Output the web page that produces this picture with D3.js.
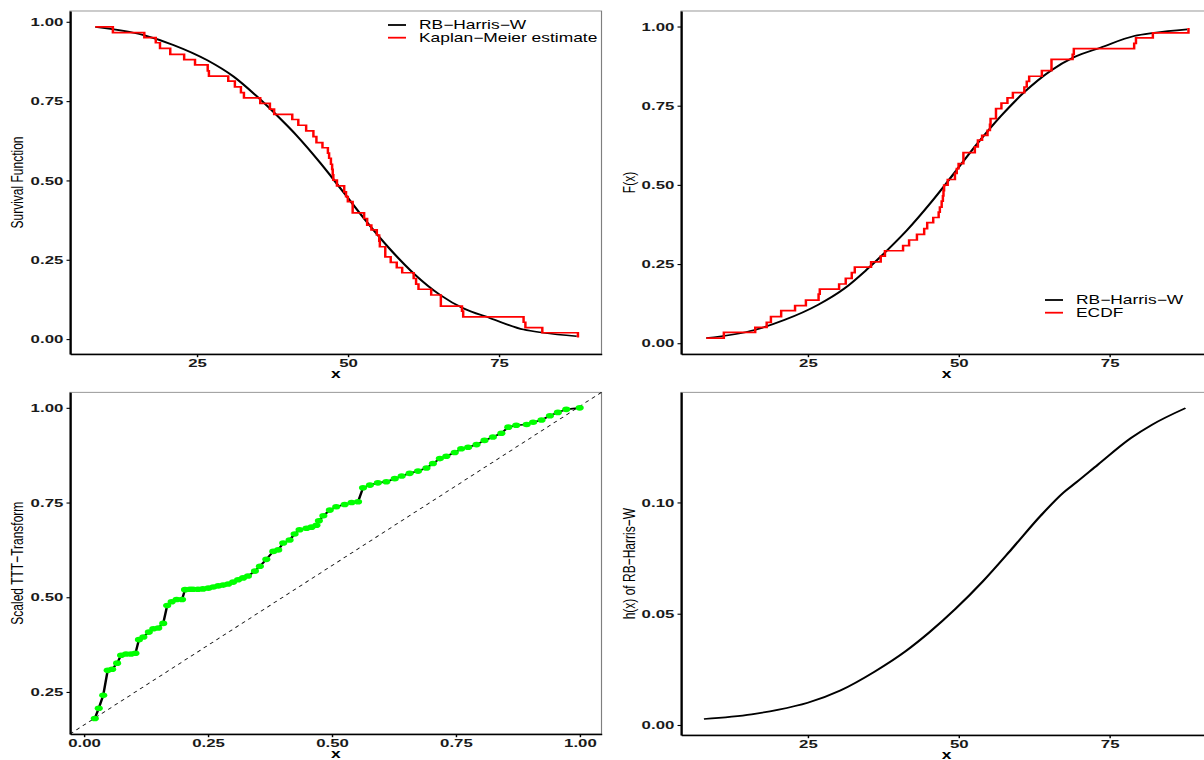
<!DOCTYPE html>
<meta charset="utf-8">
<script src="https://d3js.org/d3.v7.min.js"></script>
<style>
body { margin: 0; background: #fff; }
.tick text { font-family: "Liberation Sans", Arial, sans-serif; font-weight: bold; font-size: 11.6px; fill: #1a1a1a; }
.tick line { stroke: #000; }
.domain { stroke: #000; stroke-width: 1.5; }
.title { font-family: "Liberation Sans", Arial, sans-serif; font-size: 12px; fill: #000; }
</style>
<body>
<script>

// fitted RB-Harris-W survival / cdf
var fitX    = [8.2, 16.2, 21.1, 26.7, 31.1, 34.7, 38.2, 41.5, 45.4, 47.8, 49.6, 53.1, 57.0, 60.9, 65.3, 69.1, 73.6, 79.1, 82.4, 87.9]
var fitSurv = [0.984, 0.958, 0.927, 0.879, 0.827, 0.769, 0.706, 0.642, 0.556, 0.499, 0.455, 0.370, 0.283, 0.207, 0.139, 0.097, 0.066, 0.030, 0.020, 0.009]
var fitCdf  = [0.016, 0.042, 0.073, 0.121, 0.173, 0.231, 0.294, 0.358, 0.444, 0.501, 0.545, 0.630, 0.717, 0.793, 0.861, 0.903, 0.934, 0.970, 0.980, 0.991]

// step functions: Kaplan-Meier and ECDF jump points
var stepTime = [8.2, 11.1, 16.3, 18.2, 18.9, 20.6, 22.9, 24.7, 26.8, 27.0, 30.2, 31.3, 32.3, 32.8, 35.5, 37.1, 37.8, 40.8, 41.8, 43.1,
                44.3, 44.8, 45.8, 46.7, 46.9, 47.2, 47.4, 47.5, 47.6, 48.2, 49.4, 49.7, 50.0, 50.8, 52.7, 53.2, 53.9, 54.8, 55.2, 55.3,
                56.2, 57.1, 58.1, 59.0, 60.9, 61.3, 61.7, 63.8, 65.4, 68.9, 69.1, 79.1, 79.4, 82.2, 88.1]
var kmSurv   = [0.984, 0.966, 0.950, 0.934, 0.916, 0.897, 0.881, 0.864, 0.845, 0.829, 0.813, 0.795, 0.777, 0.760, 0.743, 0.725, 0.708, 0.692, 0.674, 0.656,
                0.638, 0.619, 0.603, 0.586, 0.570, 0.551, 0.535, 0.518, 0.501, 0.483, 0.464, 0.449, 0.433, 0.398, 0.380, 0.359, 0.344, 0.328, 0.309, 0.291,
                0.259, 0.242, 0.225, 0.209, 0.191, 0.173, 0.157, 0.139, 0.104, 0.088, 0.070, 0.053, 0.036, 0.020, 0.005]
var ecdfProb = [0.016, 0.034, 0.050, 0.066, 0.084, 0.103, 0.119, 0.136, 0.155, 0.171, 0.187, 0.205, 0.223, 0.240, 0.257, 0.275, 0.292, 0.308, 0.326, 0.344,
                0.362, 0.381, 0.397, 0.414, 0.430, 0.449, 0.465, 0.482, 0.499, 0.517, 0.536, 0.551, 0.567, 0.602, 0.620, 0.641, 0.656, 0.672, 0.691, 0.709,
                0.741, 0.758, 0.775, 0.791, 0.809, 0.827, 0.843, 0.861, 0.896, 0.912, 0.930, 0.947, 0.964, 0.980, 0.995]

// scaled TTT transform
var tttX = [0.022, 0.030, 0.039, 0.048, 0.057, 0.067, 0.075, 0.085, 0.095, 0.104, 0.111, 0.120, 0.131, 0.140, 0.150, 0.160, 0.168, 0.177, 0.187, 0.198,
            0.204, 0.214, 0.220, 0.230, 0.240, 0.251, 0.261, 0.271, 0.281, 0.291, 0.301, 0.311, 0.321, 0.331, 0.345, 0.355, 0.368, 0.382, 0.392, 0.402,
            0.415, 0.425, 0.435, 0.449, 0.459, 0.469, 0.474, 0.483, 0.496, 0.509, 0.526, 0.540, 0.553, 0.563, 0.577, 0.593, 0.610, 0.627, 0.641, 0.657,
            0.674, 0.691, 0.704, 0.718, 0.731, 0.748, 0.761, 0.775, 0.792, 0.808, 0.825, 0.842, 0.856, 0.872, 0.893, 0.906, 0.923, 0.940, 0.956, 0.973, 1.000]
var tttY = [0.180, 0.207, 0.241, 0.307, 0.310, 0.326, 0.347, 0.350, 0.350, 0.352, 0.388, 0.395, 0.408, 0.417, 0.419, 0.431, 0.478, 0.488, 0.494, 0.494,
            0.520, 0.521, 0.521, 0.521, 0.522, 0.524, 0.527, 0.530, 0.532, 0.535, 0.540, 0.546, 0.551, 0.556, 0.569, 0.582, 0.600, 0.621, 0.625, 0.643,
            0.651, 0.667, 0.678, 0.682, 0.685, 0.690, 0.702, 0.715, 0.730, 0.739, 0.745, 0.750, 0.752, 0.789, 0.796, 0.802, 0.805, 0.813, 0.820, 0.827,
            0.833, 0.841, 0.853, 0.866, 0.872, 0.882, 0.892, 0.896, 0.903, 0.914, 0.923, 0.933, 0.949, 0.954, 0.956, 0.962, 0.968, 0.979, 0.988, 0.996, 1.000]

// hazard rate of RB-Harris-W
var hazX = [7.8, 15.7, 20.0, 25.0, 30.4, 36.1, 41.3, 45.1, 49.5, 54.0, 59.1, 63.6, 67.4, 69.5, 73.1, 78.6, 82.1, 87.6]
var hazY = [0.0027, 0.0048, 0.0068, 0.0100, 0.0155, 0.0240, 0.0333, 0.0415, 0.0522, 0.0645, 0.0800, 0.0940, 0.1045, 0.1090, 0.1170, 0.1290, 0.1350, 0.1424]

var xTicksA = [25, 50, 75]
var yTicksA = [0, 0.25, 0.5, 0.75, 1]
var xTicksTTT = [0, 0.25, 0.5, 0.75, 1]
var yTicksTTT = [0.25, 0.5, 0.75, 1]
var yTicksHaz = [0, 0.05, 0.1]

// the original picture is stretched sideways, so draw narrow and stretch
var S = 1.45
var W = 1204 / S, H = 760

var svg = d3.select("body").append("svg")
            .attr("width", 1204).attr("height", H)
            .attr("viewBox", "0 0 " + W + " " + H)
            .attr("preserveAspectRatio", "none")
            .style("display", "block")

var f2 = d3.format(".2f")

function panel(o) {
  var x = d3.scaleLinear().domain(o.xd).range([o.l / S, o.r / S])
  var y = d3.scaleLinear().domain(o.yd).range([o.b, o.t])
  var g = svg.append("g")
  g.append("rect")
    .attr("x", o.l / S).attr("y", o.t)
    .attr("width", (o.r - o.l) / S).attr("height", o.b - o.t)
    .attr("fill", "none").attr("stroke", "#7f7f7f").attr("stroke-width", 0.8)
  var content = g.append("g")
  g.append("g")
    .attr("transform", "translate(0," + o.b + ")")
    .call(d3.axisBottom(x).tickValues(o.xt).tickFormat(o.xf).tickSizeInner(3.2).tickSizeOuter(0).tickPadding(1.2))
    .selectAll(".tick line").attr("stroke-width", 1)
  g.append("g")
    .attr("transform", "translate(" + o.l / S + ",0)")
    .call(d3.axisLeft(y).tickValues(o.yt).tickFormat(f2).tickSizeInner(2.4).tickSizeOuter(0).tickPadding(2.2))
    .selectAll(".tick line").attr("stroke-width", 1.1)
  g.append("text").attr("class", "title")
    .attr("x", (o.l + o.r) / 2 / S).attr("y", o.b + 24)
    .attr("text-anchor", "middle").style("font-weight", "bold")
    .text("x")
  g.append("text").attr("class", "title")
    .attr("transform", "translate(" + o.ytx / S + "," + (o.t + o.b) / 2 + ") rotate(-90)")
    .attr("text-anchor", "middle")
    .text(o.ytitle)
  return {g: content, x: x, y: y}
}

function legend(g, lx, ly, labels, colors) {
  labels.forEach(function(t, i) {
    var yy = ly + i * 12.7
    g.append("line").attr("x1", lx / S).attr("x2", (lx + 18) / S).attr("y1", yy).attr("y2", yy)
      .attr("stroke", colors[i]).attr("stroke-width", 1.8)
    g.append("text").attr("class", "title")
      .attr("x", (lx + 31) / S).attr("y", yy + 4.3)
      .text(t)
  })
}

var fmtInt = d3.format("d")

// top left: survival
var p1 = panel({l: 70, r: 601.5, t: 11, b: 354, xd: [4, 92], yd: [-0.047, 1.034],
                xt: xTicksA, xf: fmtInt, yt: yTicksA, ytx: 23, ytitle: "Survival Function"})
p1.g.append("path")
  .attr("d", d3.line().x(function(d, i) { return p1.x(fitX[i]) }).y(function(d) { return p1.y(d) }).curve(d3.curveMonotoneX)(fitSurv))
  .attr("fill", "none").attr("stroke", "#000").attr("stroke-width", 1.7)
p1.g.append("path")
  .attr("d", d3.line().x(function(d, i) { return p1.x(stepTime[i]) }).y(function(d) { return p1.y(d) }).curve(d3.curveStepAfter)(kmSurv))
  .attr("fill", "none").attr("stroke", "#ff0000").attr("stroke-width", 1.7)
legend(p1.g, 388, 25, ["RB\u2212Harris\u2212W", "Kaplan\u2212Meier estimate"], ["#000", "#ff0000"])

// top right: cdf
var p2 = panel({l: 681, r: 1212, t: 11, b: 354, xd: [4, 92], yd: [-0.034, 1.049],
                xt: xTicksA, xf: fmtInt, yt: yTicksA, ytx: 635, ytitle: "F(x)"})
p2.g.append("path")
  .attr("d", d3.line().x(function(d, i) { return p2.x(fitX[i]) }).y(function(d) { return p2.y(d) }).curve(d3.curveMonotoneX)(fitCdf))
  .attr("fill", "none").attr("stroke", "#000").attr("stroke-width", 1.7)
p2.g.append("path")
  .attr("d", d3.line().x(function(d, i) { return p2.x(stepTime[i]) }).y(function(d) { return p2.y(d) }).curve(d3.curveStepAfter)(ecdfProb))
  .attr("fill", "none").attr("stroke", "#ff0000").attr("stroke-width", 1.7)
legend(p2.g, 1045, 300, ["RB\u2212Harris\u2212W", "ECDF"], ["#000", "#ff0000"])

// bottom left: TTT
var p3 = panel({l: 70, r: 601.5, t: 392.3, b: 734, xd: [-0.028, 1.044], yd: [0.139, 1.041],
                xt: xTicksTTT, xf: f2, yt: yTicksTTT, ytx: 23, ytitle: "Scaled TTT\u2212Transform"})
p3.g.append("line")
  .attr("x1", p3.x(p3.x.domain()[0])).attr("y1", p3.y(p3.y.domain()[0]))
  .attr("x2", p3.x(p3.x.domain()[1])).attr("y2", p3.y(p3.y.domain()[1]))
  .attr("stroke", "#000").attr("stroke-width", 0.7).attr("stroke-dasharray", "3,3")
p3.g.append("path")
  .attr("d", d3.line().x(function(d, i) { return p3.x(tttX[i]) }).y(function(d) { return p3.y(d) })(tttY))
  .attr("fill", "none").attr("stroke", "#000").attr("stroke-width", 1.7)
p3.g.selectAll("circle").data(tttY).enter().append("circle")
  .attr("cx", function(d, i) { return p3.x(tttX[i]) })
  .attr("cy", function(d) { return p3.y(d) })
  .attr("r", 2.8)
  .attr("fill", "#00ff00")

// bottom right: hazard
var p4 = panel({l: 681, r: 1212, t: 392.3, b: 735, xd: [4, 92], yd: [-0.0045, 0.1495],
                xt: xTicksA, xf: fmtInt, yt: yTicksHaz, ytx: 635, ytitle: "h(x) of RB\u2212Harris\u2212W"})
p4.g.append("path")
  .attr("d", d3.line().x(function(d, i) { return p4.x(hazX[i]) }).y(function(d) { return p4.y(d) }).curve(d3.curveMonotoneX)(hazY))
  .attr("fill", "none").attr("stroke", "#000").attr("stroke-width", 1.7)

</script>
</body>
